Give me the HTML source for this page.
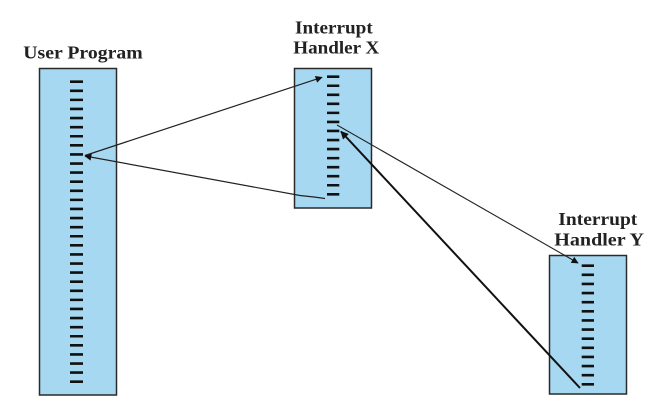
<!DOCTYPE html>
<html>
<head>
<meta charset="utf-8">
<style>
  html,body{margin:0;padding:0;background:#fff;}
  svg{display:block;}
  text{font-family:"Liberation Serif",serif;font-weight:bold;font-size:17.5px;fill:#222;}
</style>
</head>
<body>
<svg width="666" height="408" viewBox="0 0 666 408" xmlns="http://www.w3.org/2000/svg">
  <defs>
    <marker id="ah" viewBox="0 0 10 10" refX="9" refY="5" markerWidth="9" markerHeight="7" markerUnits="userSpaceOnUse" orient="auto">
      <path d="M0,0 L10,5 L0,10 Z" fill="#111"/>
    </marker>
    <marker id="ah2" viewBox="0 0 10 10" refX="9" refY="5" markerWidth="10" markerHeight="8" markerUnits="userSpaceOnUse" orient="auto">
      <path d="M0,0 L10,5 L0,10 Z" fill="#111"/>
    </marker>
  </defs>

  <!-- Labels -->
  <text x="23.3" y="58.3" textLength="119.4" lengthAdjust="spacingAndGlyphs">User Program</text>
  <text x="295" y="33.3" textLength="77.7" lengthAdjust="spacingAndGlyphs">Interrupt</text>
  <text x="293.3" y="53.7" textLength="86" lengthAdjust="spacingAndGlyphs">Handler X</text>
  <text x="558.3" y="225" textLength="79" lengthAdjust="spacingAndGlyphs">Interrupt</text>
  <text x="554.3" y="245.7" textLength="89.7" lengthAdjust="spacingAndGlyphs">Handler Y</text>

  <!-- Boxes -->
  <rect x="39.5" y="68.5" width="77" height="326.5" fill="#a7d8f1" stroke="#2a2a2a" stroke-width="1.5"/>
  <rect x="294.5" y="68.5" width="77" height="139.5" fill="#a7d8f1" stroke="#2a2a2a" stroke-width="1.5"/>
  <rect x="549.5" y="255.5" width="77" height="138.5" fill="#a7d8f1" stroke="#2a2a2a" stroke-width="1.5"/>

  <!-- Dashes (vertical lines with dash pattern => horizontal ticks) -->
  <line x1="76.5" y1="80.4" x2="76.5" y2="383.1" stroke="#111" stroke-width="13" stroke-dasharray="2.6 6.4909"/>
  <line x1="333.15" y1="75.4" x2="333.15" y2="195.7" stroke="#111" stroke-width="12.3" stroke-dasharray="2.6 6.446"/>
  <line x1="587.85" y1="264.4" x2="587.85" y2="385.7" stroke="#111" stroke-width="12.3" stroke-dasharray="2.6 6.523"/>

  <!-- Connectors -->
  <line x1="85" y1="155.5" x2="322" y2="77.3" stroke="#222" stroke-width="1.2" marker-end="url(#ah)"/>
  <polyline points="325,198.5 314,197 300,195.5 85,156" fill="none" stroke="#222" stroke-width="1.2" marker-end="url(#ah)"/>
  <line x1="337" y1="125" x2="578" y2="263" stroke="#222" stroke-width="1.1" marker-end="url(#ah)"/>
  <line x1="580" y1="388" x2="341" y2="131.5" stroke="#111" stroke-width="2" marker-end="url(#ah2)"/>
</svg>
</body>
</html>
